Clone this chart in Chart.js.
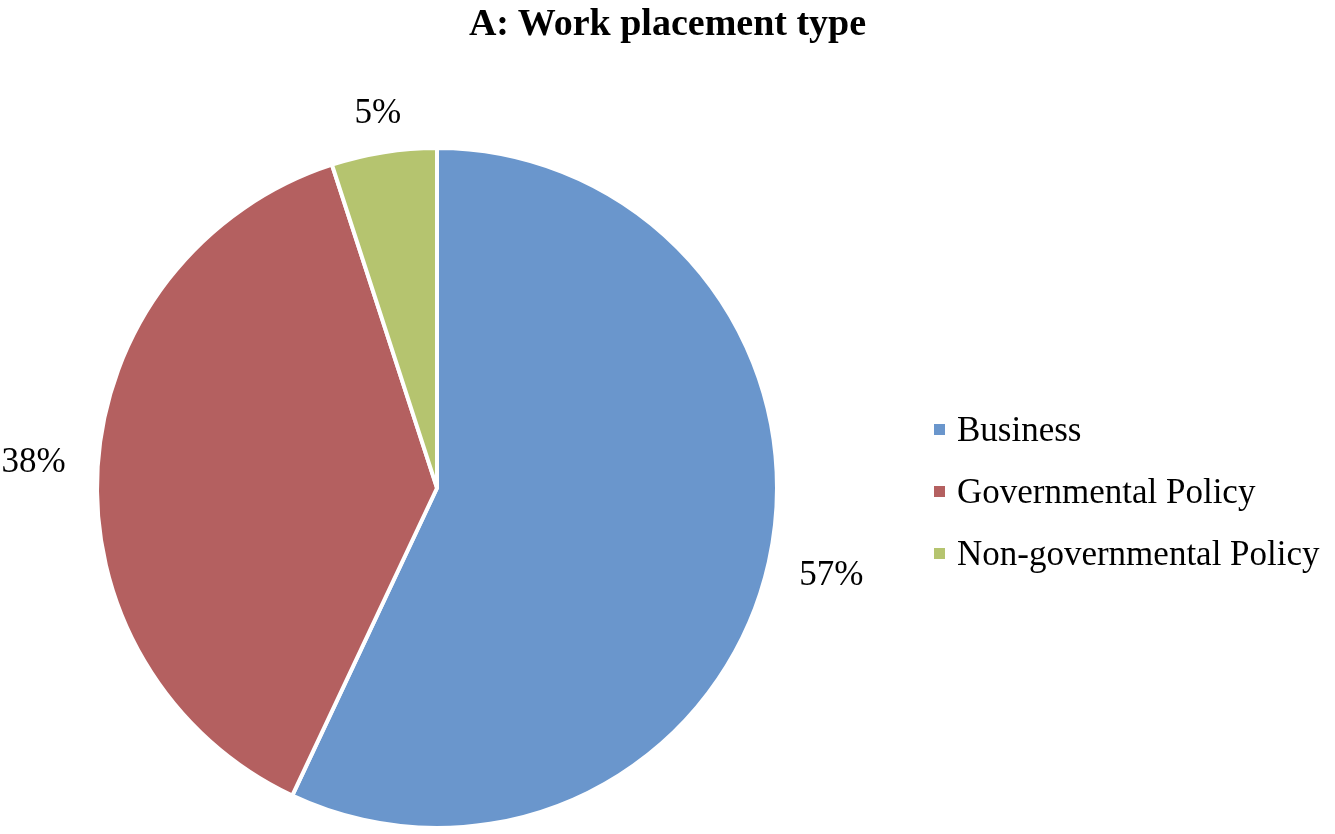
<!DOCTYPE html>
<html>
<head>
<meta charset="utf-8">
<script src="https://cdn.jsdelivr.net/npm/chart.js@4.4.1/dist/chart.umd.min.js"></script>
<style>
    body{ margin:0; background:#fff; }
    #wrap{ position:relative; width:1335px; height:834px; }
    #title{ position:absolute; left:0; top:2px; width:1335px; text-align:center; margin:0;
        font-family:"Liberation Serif","Times New Roman",serif; font-size:38px; line-height:40px; font-weight:bold; color:#000; }
    #legend{ position:absolute; left:934px; top:410px; list-style:none; margin:0; padding:0;
        font-family:"Liberation Serif","Times New Roman",serif; font-size:35px; line-height:40px; color:#000; }
    #legend li{ height:62px; display:flex; align-items:flex-start; }
    #legend .box{ width:11px; height:11px; margin-top:14px; margin-right:12px; }
</style>
</head>
<body>
<div id="wrap">
    <canvas id="work-placement" width="1335" height="834"></canvas>
    <div id="title">A: Work placement type</div>
    <ul id="legend"></ul>
</div>
<script>
const categories = ["Business", "Governmental Policy", "Non-governmental Policy"];
const shares = [57, 38, 5];
const shareLabels = ["57%", "38%", "5%"];
const colors = ["#6A96CC", "#B46060", "#B5C46F"];

// percent labels sit outside the pie, gap measured from the text box edge
const outsideLabels = {
    id: "outsideLabels",
    afterDatasetsDraw(chart){
        const ctx = chart.ctx;
        const arcs = chart.getDatasetMeta(0).data;
        ctx.save();
        ctx.font = "35px 'Liberation Serif', serif";
        ctx.fillStyle = "#000";
        ctx.textAlign = "center";
        ctx.textBaseline = "middle";
        arcs.forEach((arc, i) =>{
            const p = arc.getProps(["x", "y", "startAngle", "endAngle", "outerRadius"], true);
            const mid = (p.startAngle + p.endAngle) / 2;
            const cx = Math.cos(mid), cy = Math.sin(mid);
            const halfW = ctx.measureText(shareLabels[i]).width / 2;
            const halfH = 3;
            const r = p.outerRadius + 32 + halfW * Math.abs(cx) + halfH * Math.abs(cy);
            ctx.fillText(shareLabels[i], p.x + cx * r, p.y + cy * r);
        });
        ctx.restore();
    }
};

function buildLegend(){
    const ul = document.getElementById("legend");
    ul.innerHTML = "";
    categories.forEach((c, i) =>{
        ul.innerHTML += `<li><span class="box" style="background:${colors[i]}"></span><span>${c}</span></li>`;
    });
}

const ctx = document.getElementById("work-placement");
new Chart(ctx, {
    type: "pie",
    data: {
        labels: categories,
        datasets: [{
            data: shares,
            backgroundColor: colors,
            borderColor: "#fff",
            borderWidth: 4
        }]
    },
    options: {
        responsive: false,
        animation: false,
        layout: {
            padding: { left: 95, right: 556, top: 146, bottom: 4 }
        },
        plugins: {
            legend: { display: false },
            tooltip: { enabled: false }
        }
    },
    plugins: [outsideLabels]
});
buildLegend();
</script>
</body>
</html>
